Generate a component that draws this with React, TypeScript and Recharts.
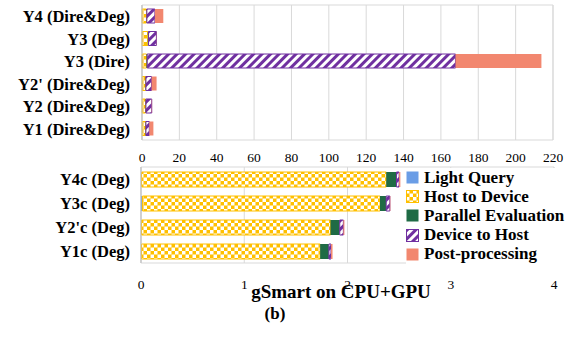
import { Bar, BarChart, CartesianGrid, ReferenceArea, XAxis, YAxis } from "recharts";

const topCategories = ["Y4 (Dire&Deg)", "Y3 (Deg)", "Y3 (Dire)", "Y2' (Dire&Deg)", "Y2 (Dire&Deg)", "Y1 (Dire&Deg)"];
const topLightQuery = [0.1, 0.1, 0.1, 0.1, 0.1, 0.1];
const topHostToDevice = [2.3, 3.0, 2.3, 1.8, 1.8, 1.8];
const topParallel = [0.2, 0.4, 0.4, 0.2, 0.2, 0.2];
const topDeviceToHost = [4.3, 4.2, 165, 3.0, 3.1, 1.8];
const topPost = [4.5, 0.1, 46, 2.7, 0.2, 2.2];
const topTicks = [0, 20, 40, 60, 80, 100, 120, 140, 160, 180, 200, 220];

const botCategories = ["Y4c (Deg)", "Y3c (Deg)", "Y2'c (Deg)", "Y1c (Deg)"];
const botLightQuery = [0.005, 0.015, 0.005, 0.005];
const botHostToDevice = [2.37, 2.3, 1.83, 1.73];
const botParallel = [0.1, 0.06, 0.09, 0.085];
const botDeviceToHost = [0.025, 0.035, 0.035, 0.02];
const botPost = [0.012, 0.005, 0.01, 0.015];
const botTicks = [0, 1, 2, 3, 4];

const YELLOW = "#FFC000";
const PURPLE = "#7030A0";
const GREEN = "#1F6B45";
const BLUE = "#6A9DE6";
const SALMON = "#F2876F";
const GRID = "#d9d9d9";
const FONT = "Liberation Serif";

const series = [
  { key: "lq", name: "Light Query", fill: BLUE, stroke: "none" },
  { key: "hd", name: "Host to Device", fill: "url(#checker)", stroke: YELLOW },
  { key: "pe", name: "Parallel Evaluation", fill: GREEN, stroke: "none" },
  { key: "dh", name: "Device to Host", fill: "url(#stripes)", stroke: PURPLE },
  { key: "pp", name: "Post-processing", fill: SALMON, stroke: "none" },
];

const topData = topCategories.map((c, i) => ({
  name: c,
  lq: topLightQuery[i],
  hd: topHostToDevice[i],
  pe: topParallel[i],
  dh: topDeviceToHost[i],
  pp: topPost[i],
}));

const botData = botCategories.map((c, i) => ({
  name: c,
  lq: botLightQuery[i],
  hd: botHostToDevice[i],
  pe: botParallel[i],
  dh: botDeviceToHost[i],
  pp: botPost[i],
}));

function Patterns() {
  return (
    <svg width={0} height={0} style={{ position: "absolute" }}>
      <defs>
        <pattern id="checker" width={7} height={7} patternUnits="userSpaceOnUse">
          <rect width={7} height={7} fill={YELLOW} />
          <rect x={0} y={0} width={3.5} height={3.5} fill="#fff" />
          <rect x={3.5} y={3.5} width={3.5} height={3.5} fill="#fff" />
        </pattern>
        <pattern id="stripes" width={6} height={6} patternUnits="userSpaceOnUse" patternTransform="rotate(45)">
          <rect width={6} height={6} fill="#fff" />
          <rect x={0} y={0} width={3} height={6} fill={PURPLE} />
        </pattern>
      </defs>
    </svg>
  );
}

const yTick = { fill: "#000", fontSize: 16.5, fontWeight: 700, fontFamily: FONT };
const xTick = { fill: "#000", fontSize: 13.5, fontFamily: FONT };

function Bars() {
  return series.map((s) => (
    <Bar
      key={s.key}
      dataKey={s.key}
      name={s.name}
      stackId="a"
      fill={s.fill}
      stroke={s.stroke}
      strokeWidth={1}
      isAnimationActive={false}
    />
  ));
}

export default function App() {
  return (
    <div style={{ position: "absolute", left: 0, top: 0, width: 575, height: 338, background: "#fff", fontFamily: FONT }}>
      <Patterns />
      <div style={{ position: "absolute", left: 0, top: 0 }}>
        <BarChart width={575} height={168} data={topData} layout="vertical" barSize={14} margin={{ top: 5, right: 22, bottom: 0, left: 0 }}>
          <CartesianGrid horizontal={false} stroke={GRID} />
          <ReferenceArea x1={0} x2={220} fill="none" stroke={GRID} ifOverflow="visible" />
          <XAxis
            type="number"
            domain={[0, 220]}
            ticks={topTicks}
            axisLine={false}
            tickLine={false}
            tickSize={0}
            tickMargin={12}
            height={28}
            tick={xTick}
            interval={0}
          />
          <YAxis
            type="category"
            dataKey="name"
            width={142}
            axisLine={{ stroke: "#bfbfbf" }}
            tickLine={false}
            tickSize={0}
            tickMargin={12}
            tick={yTick}
            interval={0}
          />
          {Bars()}
        </BarChart>
      </div>
      <div style={{ position: "absolute", left: 0, top: 160 }}>
        <BarChart width={575} height={133} data={botData} layout="vertical" barSize={15} margin={{ top: 7, right: 21, bottom: 0, left: 0 }}>
          <CartesianGrid horizontal={false} stroke={GRID} />
          <ReferenceArea x1={0} x2={4} fill="none" stroke={GRID} ifOverflow="visible" />
          <XAxis
            type="number"
            domain={[0, 4]}
            ticks={botTicks}
            axisLine={false}
            tickLine={false}
            tickSize={0}
            tickMargin={16}
            height={30}
            tick={xTick}
            interval={0}
          />
          <YAxis
            type="category"
            dataKey="name"
            width={141}
            axisLine={{ stroke: "#bfbfbf" }}
            tickLine={false}
            tickSize={0}
            tickMargin={11}
            tick={yTick}
            interval={0}
          />
          {Bars()}
        </BarChart>
      </div>
      <div style={{ position: "absolute", left: 406, top: 168, background: "#fff", paddingRight: 4 }}>
        {series.map((s) => (
          <div key={s.key} style={{ display: "flex", alignItems: "center", height: 19.2, fontSize: 17, fontWeight: 700, whiteSpace: "nowrap" }}>
            <svg width={13} height={13} style={{ marginRight: 5 }}>
              <rect x={0.5} y={0.5} width={12} height={12} fill={s.fill} stroke={s.stroke} />
            </svg>
            {s.name}
          </div>
        ))}
      </div>
      <div style={{ position: "absolute", left: 241, top: 280, width: 200, textAlign: "center", fontSize: 19, fontWeight: 700, lineHeight: "24px" }}>
        gSmart on CPU+GPU
      </div>
      <div style={{ position: "absolute", left: 255, top: 303, width: 40, textAlign: "center", fontSize: 17, fontWeight: 700, lineHeight: "22px" }}>
        (b)
      </div>
    </div>
  );
}
